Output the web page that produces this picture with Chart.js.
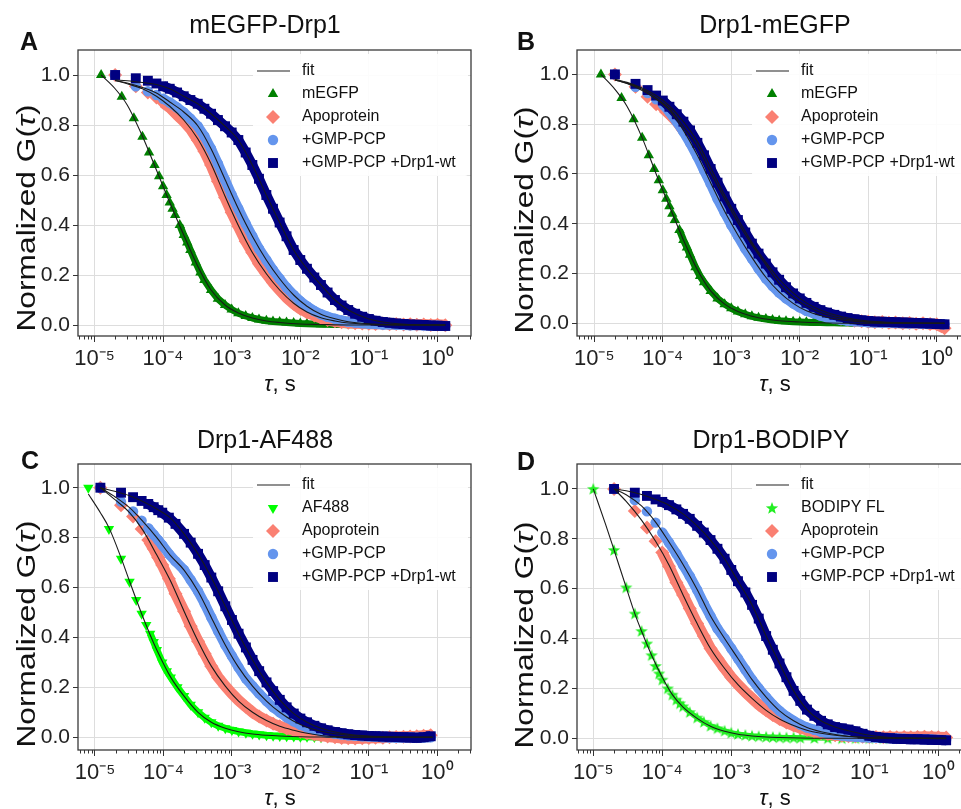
<!DOCTYPE html>
<html>
<head>
<meta charset="utf-8">
<script src="https://cdn.jsdelivr.net/npm/chart.js@4.4.1/dist/chart.umd.min.js"></script>
<style>
html, body { margin: 0; padding: 0; background: #fff; overflow: hidden; width: 961px; height: 809px; }
body { position: relative; font-family: 'Liberation Sans', Arial, sans-serif; color: #111; }
canvas { position: absolute; }
.title { position: absolute; font-size: 25px; line-height: 1; white-space: nowrap; transform: translateX(-50%); }
.letter { position: absolute; font-size: 25px; font-weight: bold; line-height: 1; }
.xlab { position: absolute; font-size: 22px; line-height: 1; white-space: nowrap; transform: translateX(-50%); }
.ylab { position: absolute; font-size: 25px; line-height: 1; white-space: nowrap;
        transform: translate(-50%, -50%) rotate(-90deg) scaleX(1.27); }
</style>
</head>
<body>
<canvas id="cA" width="480" height="400" style="left:0;top:0"></canvas>
<canvas id="cB" width="480" height="400" style="left:499px;top:0"></canvas>
<canvas id="cC" width="480" height="400" style="left:0;top:414px"></canvas>
<canvas id="cD" width="480" height="400" style="left:499px;top:414px"></canvas>

<div class="title" style="left:265px;top:12px">mEGFP-Drp1</div>
<div class="title" style="left:775px;top:12px">Drp1-mEGFP</div>
<div class="title" style="left:265px;top:427px">Drp1-AF488</div>
<div class="title" style="left:771px;top:427px">Drp1-BODIPY</div>
<div class="letter" style="left:20px;top:29px">A</div>
<div class="letter" style="left:517px;top:29px">B</div>
<div class="letter" style="left:21px;top:448px">C</div>
<div class="letter" style="left:517px;top:449px">D</div>
<div class="ylab" style="left:26px;top:218px">Normalized G(<i>τ</i>)</div>
<div class="ylab" style="left:524px;top:220px">Normalized G(<i>τ</i>)</div>
<div class="ylab" style="left:26px;top:634px">Normalized G(<i>τ</i>)</div>
<div class="ylab" style="left:524px;top:635px">Normalized G(<i>τ</i>)</div>
<div class="xlab" style="left:280px;top:373px"><i>τ</i>, s</div>
<div class="xlab" style="left:775px;top:373px"><i>τ</i>, s</div>
<div class="xlab" style="left:280px;top:787px"><i>τ</i>, s</div>
<div class="xlab" style="left:775px;top:787px"><i>τ</i>, s</div>

<script>
const FONT = "'Liberation Sans', Arial, sans-serif";
Chart.defaults.font.family = FONT;
Chart.defaults.color = '#222';

const X_TICKS = [1e-5, 1e-4, 1e-3, 1e-2, 1e-1, 1];
const Y_TICKS = [0, 0.2, 0.4, 0.6, 0.8, 1.0];
const SUP = {'-': '\u207b', '0': '\u2070', '1': '\u00b9', '2': '\u00b2', '3': '\u00b3', '4': '\u2074', '5': '\u2075'};

// lag times, s
const TAU = [2e-5, 4e-5, 6e-5, 8e-5, 1e-4, 1.25e-4, 1.6e-4, 2e-4, 2.5e-4, 3.2e-4,
  4e-4, 5e-4, 6.3e-4, 8e-4, 1e-3, 1.25e-3, 1.6e-3, 2e-3, 2.5e-3, 3.2e-3,
  4e-3, 5e-3, 6.3e-3, 8e-3, 1e-2, 1.25e-2, 1.6e-2, 2e-2, 2.5e-2, 3.2e-2,
  4e-2, 5e-2, 6.3e-2, 8e-2, 0.1, 0.125, 0.16, 0.2, 0.25, 0.32,
  0.4, 0.5, 0.63, 0.8, 1.0, 1.3];
const TAU_C = [1.2e-5, 2.4e-5, 3.6e-5, 4.8e-5, 6e-5, 7.2e-5, 8.4e-5, 9.6e-5, 1.2e-4, 1.5e-4,
  2e-4, 2.5e-4, 3.2e-4, 4e-4, 5e-4, 6.3e-4, 8e-4, 1e-3, 1.25e-3, 1.6e-3,
  2e-3, 2.5e-3, 3.2e-3, 4e-3, 5e-3, 6.3e-3, 8e-3, 1e-2, 1.25e-2, 1.6e-2,
  2e-2, 2.5e-2, 3.2e-2, 4e-2, 5e-2, 6.3e-2, 8e-2, 0.1, 0.125, 0.16,
  0.2, 0.25, 0.32, 0.4, 0.5, 0.63, 0.8];
const TAU_MEGFP = [1.25e-5, 2.5e-5, 3.75e-5, 5e-5, 6.25e-5, 7.5e-5, 8.75e-5, 1e-4, 1.125e-4, 1.25e-4,
  1.375e-4, 1.5e-4, 1.75e-4, 2e-4, 2.25e-4, 2.5e-4, 3e-4, 3.5e-4, 4e-4, 5e-4,
  6.3e-4, 8e-4, 1e-3, 1.25e-3, 1.6e-3, 2e-3, 2.5e-3, 3.2e-3, 4e-3, 5e-3,
  6.3e-3, 8e-3, 1e-2, 1.25e-2, 1.6e-2, 2e-2, 2.5e-2, 3.2e-2, 4e-2, 5e-2,
  6.3e-2];
const TAU_AF488 = [8e-6, 1.6e-5, 2.4e-5, 3.2e-5, 4e-5, 4.8e-5, 5.6e-5, 6.4e-5, 7.2e-5, 8e-5,
  9.6e-5, 1.12e-4, 1.28e-4, 1.6e-4, 2e-4, 2.5e-4, 3.2e-4, 4e-4, 5e-4, 6.3e-4,
  8e-4, 1e-3, 1.25e-3, 1.6e-3, 2e-3, 2.5e-3, 3.2e-3, 4e-3, 5e-3, 6.3e-3,
  8e-3, 1e-2, 1.25e-2, 1.6e-2, 2e-2];
const TAU_BODIPY = [1e-5, 2e-5, 3e-5, 4e-5, 5e-5, 6e-5, 7e-5, 8e-5, 9e-5, 1e-4,
  1.2e-4, 1.4e-4, 1.6e-4, 1.8e-4, 2e-4, 2.5e-4, 3.2e-4, 4e-4, 5e-4, 6.3e-4,
  8e-4, 1e-3, 1.25e-3, 1.6e-3, 2e-3, 2.5e-3, 3.2e-3, 4e-3, 5e-3, 6.3e-3,
  8e-3, 1e-2, 1.6e-2, 2.5e-2, 4e-2, 6.3e-2, 0.1, 0.16, 0.25, 0.4,
  0.63, 1.0];
// lag times of the fit curves
const TAU_FIT = [2e-5, 3e-5, 5e-5, 8e-5, 1.25e-4, 2e-4, 3.2e-4, 5e-4, 8e-4, 1.25e-3,
  2e-3, 3.2e-3, 5e-3, 8e-3, 1.25e-2, 2e-2, 3.2e-2, 5e-2, 0.1, 0.2, 0.5, 1.3];
const TAU_FIT_C = [1.2e-5, 2e-5, 3.2e-5, 5e-5, 8e-5, 1.25e-4, 2e-4, 3.2e-4, 5e-4, 8e-4, 1.25e-3,
  2e-3, 3.2e-3, 5e-3, 8e-3, 1.25e-2, 2e-2, 3.2e-2, 5e-2, 0.1, 0.2, 0.5, 0.85];
const TAU_FIT_MEGFP = [1.25e-5, 2e-5, 3e-5, 5e-5, 8e-5, 1.25e-4, 2e-4, 3.2e-4, 5e-4, 8e-4,
  1.25e-3, 2e-3, 3.2e-3, 5e-3, 1e-2, 2e-2, 5e-2, 0.1, 0.3, 1.3];
const TAU_FIT_AF488 = [8e-6, 1.2e-5, 1.6e-5, 2.4e-5, 3.2e-5, 4.8e-5, 6.4e-5, 8e-5, 1.28e-4, 2e-4,
  3.2e-4, 5e-4, 8e-4, 1.25e-3, 2e-3, 3.2e-3, 5e-3, 1e-2, 2e-2, 5e-2, 0.1, 0.3, 0.85];
const TAU_FIT_BODIPY = [1e-5, 1.5e-5, 2e-5, 3e-5, 4e-5, 5e-5, 7e-5, 1e-4, 1.4e-4, 2e-4,
  3.2e-4, 5e-4, 8e-4, 1.25e-3, 2e-3, 3.2e-3, 5e-3, 1e-2, 2e-2, 5e-2, 0.1, 0.3, 1.3];

// A: mEGFP-Drp1
const A_MEGFP = [1.0, 0.913, 0.827, 0.753, 0.69, 0.64, 0.595, 0.555, 0.52, 0.49,
  0.465, 0.44, 0.4, 0.36, 0.33, 0.3, 0.25, 0.21, 0.18, 0.14,
  0.105, 0.08, 0.062, 0.047, 0.036, 0.028, 0.022, 0.017, 0.014, 0.012,
  0.01, 0.008, 0.006, 0.005, 0.004, 0.003, 0.003, 0.002, 0.002, 0.001,
  0.001];
const A_APO = [1.0, 0.955, 0.93, 0.91, 0.89, 0.87, 0.84, 0.815, 0.785, 0.74,
  0.695, 0.64, 0.575, 0.51, 0.45, 0.395, 0.335, 0.29, 0.245, 0.205,
  0.17, 0.14, 0.11, 0.085, 0.065, 0.05, 0.038, 0.028, 0.02, 0.015,
  0.011, 0.009, 0.007, 0.006, 0.005, 0.004, 0.006, 0.003, 0.004, 0.002,
  0.003, 0.001, 0.002, 0.0, 0.001, -0.001];
const A_GMP = [1.0, 0.955, 0.935, 0.92, 0.905, 0.89, 0.87, 0.85, 0.825, 0.795,
  0.755, 0.705, 0.645, 0.58, 0.52, 0.465, 0.405, 0.355, 0.305, 0.26,
  0.22, 0.185, 0.15, 0.12, 0.095, 0.075, 0.056, 0.043, 0.033, 0.025,
  0.018, 0.013, 0.01, 0.007, 0.005, 0.004, 0.002, 0.003, 0.001, 0.0,
  -0.001, 0.0, -0.002, -0.003, -0.003, -0.004];
const A_WT = [1.0, 0.987, 0.977, 0.966, 0.955, 0.945, 0.93, 0.915, 0.9, 0.885,
  0.865, 0.845, 0.82, 0.795, 0.77, 0.74, 0.69, 0.64, 0.585, 0.52,
  0.465, 0.41, 0.355, 0.3, 0.26, 0.225, 0.19, 0.16, 0.13, 0.1,
  0.078, 0.06, 0.045, 0.033, 0.024, 0.017, 0.012, 0.009, 0.006, 0.004,
  0.002, 0.001, 0.0, -0.002, -0.003, -0.004];
const A_FIT_MEGFP = [1.0, 0.945, 0.88, 0.755, 0.62, 0.49, 0.36, 0.235, 0.14, 0.08,
  0.048, 0.028, 0.016, 0.01, 0.004, 0.002, 0.0, 0.0, 0.0, 0.0];
const A_FIT_APO = [0.978, 0.965, 0.945, 0.915, 0.875, 0.82, 0.745, 0.645, 0.515, 0.398,
  0.29, 0.205, 0.14, 0.087, 0.052, 0.029, 0.016, 0.008, 0.003, 0.001, 0.0, 0.0];
const A_FIT_GMP = [0.978, 0.968, 0.95, 0.928, 0.892, 0.852, 0.797, 0.705, 0.582, 0.465,
  0.355, 0.26, 0.185, 0.12, 0.075, 0.043, 0.025, 0.013, 0.005, 0.002, 0.0, 0.0];
const A_FIT_WT = [0.98, 0.977, 0.97, 0.962, 0.945, 0.915, 0.885, 0.845, 0.795, 0.74,
  0.64, 0.52, 0.41, 0.3, 0.225, 0.16, 0.1, 0.06, 0.024, 0.008, 0.001, 0.0];

// B: Drp1-mEGFP
const B_MEGFP = [1.0, 0.905, 0.82, 0.745, 0.675, 0.62, 0.575, 0.535, 0.5, 0.47,
  0.44, 0.415, 0.375, 0.335, 0.305, 0.275, 0.225, 0.19, 0.165, 0.13,
  0.1, 0.077, 0.06, 0.047, 0.036, 0.028, 0.022, 0.017, 0.013, 0.01,
  0.008, 0.006, 0.005, 0.004, 0.003, 0.003, 0.002, 0.002, 0.001, 0.001,
  0.0];
const B_APO = [1.0, 0.95, 0.91, 0.88, 0.865, 0.84, 0.81, 0.775, 0.74, 0.695,
  0.645, 0.595, 0.54, 0.49, 0.445, 0.4, 0.35, 0.305, 0.265, 0.225,
  0.19, 0.158, 0.128, 0.102, 0.082, 0.065, 0.05, 0.04, 0.031, 0.024,
  0.018, 0.014, 0.01, 0.008, 0.006, 0.004, 0.005, 0.002, 0.003, 0.0,
  0.001, -0.002, 0.0, -0.003, -0.004, -0.02];
const B_GMP = [1.0, 0.95, 0.925, 0.9, 0.88, 0.85, 0.81, 0.77, 0.725, 0.67,
  0.615, 0.56, 0.5, 0.445, 0.395, 0.35, 0.3, 0.26, 0.22, 0.18,
  0.15, 0.123, 0.1, 0.08, 0.064, 0.05, 0.04, 0.031, 0.024, 0.018,
  0.014, 0.01, 0.008, 0.006, 0.004, 0.003, 0.002, 0.003, 0.001, 0.0,
  -0.001, 0.0, -0.002, -0.002, -0.003, -0.004];
const B_WT = [1.0, 0.962, 0.937, 0.915, 0.895, 0.87, 0.84, 0.81, 0.775, 0.725,
  0.675, 0.62, 0.565, 0.51, 0.46, 0.415, 0.365, 0.32, 0.28, 0.24,
  0.205, 0.175, 0.145, 0.12, 0.1, 0.082, 0.066, 0.053, 0.043, 0.034,
  0.027, 0.021, 0.016, 0.012, 0.009, 0.007, 0.006, 0.005, 0.004, 0.003,
  0.002, 0.001, 0.0, -0.001, -0.003, -0.004];
const B_FIT_MEGFP = [1.0, 0.94, 0.872, 0.745, 0.6, 0.47, 0.335, 0.215, 0.13, 0.077,
  0.047, 0.028, 0.017, 0.01, 0.005, 0.002, 0.0, 0.0, 0.0, 0.0];
const B_FIT_APO = [0.978, 0.965, 0.94, 0.905, 0.862, 0.79, 0.71, 0.605, 0.5, 0.405,
  0.315, 0.235, 0.16, 0.105, 0.07, 0.043, 0.026, 0.015, 0.006, 0.002, 0.0, 0.0];
const B_FIT_GMP = [0.978, 0.963, 0.935, 0.9, 0.855, 0.775, 0.675, 0.565, 0.45, 0.355,
  0.265, 0.185, 0.126, 0.08, 0.05, 0.031, 0.018, 0.01, 0.004, 0.001, 0.0, 0.0];
const B_FIT_WT = [0.98, 0.968, 0.945, 0.915, 0.873, 0.81, 0.73, 0.625, 0.515, 0.42,
  0.325, 0.245, 0.178, 0.122, 0.082, 0.053, 0.034, 0.021, 0.009, 0.004, 0.001, 0.0];

// C: Drp1-AF488
const C_AF488 = [1.0, 0.835, 0.715, 0.623, 0.55, 0.495, 0.45, 0.415, 0.382, 0.35,
  0.3, 0.265, 0.24, 0.2, 0.165, 0.13, 0.1, 0.078, 0.06, 0.046,
  0.036, 0.029, 0.023, 0.018, 0.014, 0.011, 0.008, 0.006, 0.005, 0.004,
  0.003, 0.002, 0.002, 0.001, 0.0];
const C_APO = [1.0, 0.93, 0.885, 0.835, 0.79, 0.755, 0.72, 0.69, 0.635, 0.575,
  0.505, 0.445, 0.385, 0.335, 0.285, 0.24, 0.205, 0.175, 0.148, 0.122,
  0.1, 0.083, 0.067, 0.054, 0.044, 0.035, 0.028, 0.022, 0.016, 0.011,
  0.007, 0.003, 0.0, -0.003, -0.004, -0.005, -0.004, -0.003, -0.002, -0.002,
  0.0, 0.001, 0.002, 0.003, 0.004, 0.006, 0.008];
const C_GMP = [1.0, 0.944, 0.905, 0.868, 0.838, 0.812, 0.79, 0.77, 0.735, 0.705,
  0.67, 0.63, 0.585, 0.535, 0.48, 0.425, 0.37, 0.325, 0.28, 0.235,
  0.205, 0.175, 0.145, 0.12, 0.1, 0.08, 0.064, 0.05, 0.04, 0.031,
  0.024, 0.019, 0.014, 0.011, 0.008, 0.006, 0.004, 0.003, 0.002, 0.0,
  -0.001, -0.002, -0.001, 0.0, -0.002, -0.001, 0.0];
const C_WT = [1.0, 0.98, 0.962, 0.947, 0.935, 0.922, 0.91, 0.9, 0.88, 0.855,
  0.815, 0.78, 0.735, 0.69, 0.64, 0.585, 0.525, 0.47, 0.415, 0.36,
  0.31, 0.265, 0.22, 0.185, 0.15, 0.12, 0.095, 0.075, 0.06, 0.046,
  0.036, 0.028, 0.021, 0.016, 0.012, 0.009, 0.007, 0.005, 0.004, 0.003,
  0.002, 0.001, 0.0, -0.001, -0.002, 0.0, 0.004];
const C_FIT_AF488 = [0.975, 0.9, 0.84, 0.72, 0.625, 0.495, 0.41, 0.35, 0.24, 0.165,
  0.1, 0.06, 0.036, 0.022, 0.013, 0.008, 0.005, 0.002, 0.001, 0.0, 0.0, 0.0, 0.0];
const C_FIT_APO = [1.0, 0.95, 0.9, 0.83, 0.73, 0.63, 0.505, 0.385, 0.285, 0.205,
  0.145, 0.1, 0.067, 0.044, 0.028, 0.016, 0.007, 0.003, 0.001, 0.0, 0.0, 0.0, 0.0];
const C_FIT_GMP = [1.0, 0.962, 0.92, 0.865, 0.8, 0.73, 0.67, 0.585, 0.48, 0.37,
  0.28, 0.205, 0.145, 0.1, 0.064, 0.04, 0.024, 0.014, 0.008, 0.003, 0.001, 0.0, 0.0];
const C_FIT_WT = [1.0, 0.985, 0.968, 0.945, 0.915, 0.88, 0.815, 0.735, 0.64, 0.525,
  0.415, 0.31, 0.22, 0.15, 0.095, 0.06, 0.036, 0.021, 0.012, 0.005, 0.002, 0.0, 0.0];

// D: Drp1-BODIPY
const D_BODIPY = [1.0, 0.755, 0.605, 0.5, 0.43, 0.38, 0.333, 0.29, 0.26, 0.235,
  0.2, 0.175, 0.155, 0.14, 0.128, 0.105, 0.083, 0.066, 0.05, 0.04,
  0.03, 0.022, 0.017, 0.013, 0.01, 0.008, 0.006, 0.005, 0.004, 0.003,
  0.003, 0.002, 0.001, 0.0, 0.0, 0.0, 0.0, 0.0, 0.001, 0.002,
  0.008, 0.0];
const D_APO = [1.0, 0.912, 0.845, 0.79, 0.745, 0.69, 0.625, 0.575, 0.52, 0.46,
  0.41, 0.36, 0.32, 0.28, 0.245, 0.215, 0.185, 0.16, 0.135, 0.112,
  0.093, 0.077, 0.063, 0.051, 0.041, 0.033, 0.026, 0.02, 0.016, 0.012,
  0.01, 0.008, 0.007, 0.006, 0.005, 0.005, 0.004, 0.005, 0.004, 0.005,
  0.004, 0.005, 0.006, 0.005, 0.004, 0.003];
const D_GMP = [1.0, 0.955, 0.91, 0.865, 0.825, 0.785, 0.74, 0.695, 0.65, 0.595,
  0.54, 0.49, 0.44, 0.4, 0.36, 0.32, 0.275, 0.235, 0.2, 0.165,
  0.135, 0.11, 0.088, 0.07, 0.055, 0.043, 0.034, 0.026, 0.02, 0.015,
  0.011, 0.008, 0.006, 0.004, 0.003, 0.002, 0.001, 0.0, -0.001, -0.002,
  -0.003, -0.003, -0.004, -0.005, -0.006, -0.007];
const D_WT = [1.0, 0.985, 0.972, 0.958, 0.948, 0.935, 0.918, 0.9, 0.88, 0.852,
  0.825, 0.795, 0.76, 0.72, 0.675, 0.63, 0.585, 0.535, 0.48, 0.41,
  0.355, 0.3, 0.245, 0.19, 0.15, 0.115, 0.09, 0.07, 0.056, 0.045,
  0.04, 0.035, 0.028, 0.018, 0.01, 0.005, 0.002, 0.0, -0.002, -0.003,
  -0.004, -0.004, -0.005, -0.006, -0.007, -0.008];
const D_FIT_BODIPY = [1.0, 0.86, 0.755, 0.605, 0.5, 0.43, 0.333, 0.245, 0.175, 0.125,
  0.08, 0.048, 0.028, 0.016, 0.009, 0.005, 0.003, 0.001, 0.0, 0.0, 0.0, 0.0, 0.0];
const D_FIT_APO = [1.0, 0.95, 0.875, 0.79, 0.695, 0.575, 0.46, 0.36, 0.28, 0.215,
  0.16, 0.112, 0.077, 0.051, 0.032, 0.02, 0.012, 0.007, 0.003, 0.001, 0.0, 0.0];
const D_FIT_GMP = [1.0, 0.977, 0.932, 0.867, 0.787, 0.697, 0.597, 0.49, 0.4, 0.32,
  0.235, 0.165, 0.11, 0.07, 0.043, 0.026, 0.015, 0.008, 0.003, 0.001, 0.0, 0.0];
const D_FIT_WT = [1.0, 0.993, 0.978, 0.958, 0.935, 0.9, 0.852, 0.795, 0.72, 0.63,
  0.535, 0.41, 0.3, 0.19, 0.115, 0.07, 0.045, 0.03, 0.012, 0.003, 0.0, -0.002];

// filled 5-point star marker (matplotlib '*')
function starImage(color) {
  const c = document.createElement('canvas');
  c.width = 14; c.height = 14;
  const g = c.getContext('2d');
  g.fillStyle = color;
  g.beginPath();
  for (let i = 0; i < 10; i++) {
    const r = i % 2 ? 2.7 : 6.5;
    const a = -Math.PI / 2 + i * Math.PI / 5;
    g.lineTo(7 + r * Math.cos(a), 7.5 + r * Math.sin(a));
  }
  g.closePath();
  g.fill();
  return c;
}

const ST_MEGFP = {color: '#008000', pointStyle: 'triangle', radius: 6, rotation: 0, band: 7};
const ST_AF488 = {color: '#00ff00', pointStyle: 'triangle', radius: 6, rotation: 180, band: 7};
const ST_BODIPY = {color: '#22ee22', pointStyle: starImage('#22ee22'), radius: 6, rotation: 0, band: 5};
const ST_APO = {color: '#fa8072', pointStyle: 'rectRot', radius: 7, rotation: 0, band: 11};
const ST_GMP = {color: '#6495ed', pointStyle: 'circle', radius: 5.2, rotation: 0, band: 10};
const ST_WT = {color: '#000080', pointStyle: 'rect', radius: 7, rotation: 0, band: 10};

function markerSet(label, tau, vals, st, bandFrom, order) {
  return {
    label: label,
    order: order,
    data: tau.map((t, i) => ({x: t, y: vals[i]})),
    showLine: true,
    borderColor: st.color,
    borderWidth: st.band,
    borderJoinStyle: 'round',
    // dense part of the correlation curve looks like a solid band of markers
    segment: {borderColor: ctx => ctx.p0.parsed.x < bandFrom ? 'rgba(0,0,0,0)' : st.color},
    pointStyle: st.pointStyle,
    pointRadius: st.radius,
    pointRotation: st.rotation,
    pointBackgroundColor: st.color,
    pointBorderWidth: 0
  };
}

function fitSet(tau, vals) {
  return {
    label: 'fit',
    order: 0,
    data: tau.map((t, i) => ({x: t, y: vals[i]})),
    showLine: true,
    borderColor: '#1a1a1a',
    borderWidth: 1.1,
    pointRadius: 0,
    cubicInterpolationMode: 'monotone'
  };
}

function drawMarker(ctx, d, x, y) {
  if (Chart.helpers && Chart.helpers.drawPoint) {
    Chart.helpers.drawPoint(ctx, {pointStyle: d.pointStyle, radius: d.pointRadius,
      rotation: d.pointRotation, borderWidth: 0}, x, y);
  } else {
    ctx.beginPath(); ctx.arc(x, y, d.pointRadius, 0, Math.PI * 2); ctx.fill();
  }
}

// legend inside the axes, upper right: white box under the data, entries on top
const legendInside = {
  id: 'legendInside',
  beforeDatasetsDraw(chart) {
    const {ctx, chartArea: a} = chart;
    ctx.save();
    ctx.fillStyle = 'rgba(255,255,255,0.9)';
    ctx.beginPath();
    if (ctx.roundRect) ctx.roundRect(a.left + 175, a.top + 4, a.right - 3 - (a.left + 175), 122, 3);
    else ctx.rect(a.left + 175, a.top + 4, a.right - 3 - (a.left + 175), 122);
    ctx.fill();
    ctx.restore();
  },
  afterDatasetsDraw(chart) {
    const {ctx, chartArea: a} = chart;
    const x0 = a.left;
    ctx.save();
    ctx.font = '16px ' + FONT;
    ctx.textBaseline = 'middle';
    let y = a.top + 21;
    ctx.strokeStyle = '#222';
    ctx.lineWidth = 1.1;
    ctx.beginPath(); ctx.moveTo(x0 + 179, y); ctx.lineTo(x0 + 212, y); ctx.stroke();
    ctx.fillStyle = '#111';
    ctx.fillText('fit', x0 + 224, y);
    chart.data.datasets.filter(d => d.label !== 'fit').forEach(d => {
      y += 23;
      ctx.fillStyle = d.pointBackgroundColor;
      drawMarker(ctx, d, x0 + 195, y);
      ctx.fillStyle = '#111';
      ctx.fillText(d.label, x0 + 224, y);
    });
    ctx.restore();
  }
};

// box around the axes + minor log ticks
const frame = {
  id: 'frame',
  afterDraw(chart) {
    const {ctx, chartArea: a} = chart;
    const x = chart.scales.x;
    ctx.save();
    ctx.strokeStyle = '#333';
    ctx.lineWidth = 1;
    ctx.beginPath();
    for (let e = -6; e <= 0; e++) {
      for (let m = 2; m < 10; m++) {
        const v = m * Math.pow(10, e);
        if (v <= x.min || v >= x.max) continue;
        const px = Math.round(x.getPixelForValue(v)) + 0.5;
        ctx.moveTo(px, a.bottom);
        ctx.lineTo(px, a.bottom + 3.5);
      }
    }
    ctx.stroke();
    ctx.strokeStyle = '#3a3a3a';
    ctx.lineWidth = 1.3;
    ctx.strokeRect(a.left, a.top, a.right - a.left, a.bottom - a.top);
    ctx.restore();
  }
};

function supLabel(v) {
  return '10' + String(Math.round(Math.log10(v))).split('').map(c => SUP[c]).join('');
}

const PANELS = [
  {canvas: 'cA', xMin: 5.75e-6, xMax: 3.08, yMin: -0.044, yMax: 1.1,
   dye: ['mEGFP', TAU_MEGFP, A_MEGFP, ST_MEGFP, 1.75e-4, TAU_FIT_MEGFP, A_FIT_MEGFP],
   tau: TAU, band: 1e-4, apo: A_APO, gmp: A_GMP, wt: A_WT,
   fitTau: TAU_FIT, fits: [A_FIT_APO, A_FIT_GMP, A_FIT_WT]},
  {canvas: 'cB', xMin: 5.59e-6, xMax: 3.06, yMin: -0.051, yMax: 1.098,
   dye: ['mEGFP', TAU_MEGFP, B_MEGFP, ST_MEGFP, 1.75e-4, TAU_FIT_MEGFP, B_FIT_MEGFP],
   tau: TAU, band: 1e-4, apo: B_APO, gmp: B_GMP, wt: B_WT,
   fitTau: TAU_FIT, fits: [B_FIT_APO, B_FIT_GMP, B_FIT_WT]},
  {canvas: 'cC', xMin: 5.65e-6, xMax: 3.1, yMin: -0.051, yMax: 1.095,
   dye: ['AF488', TAU_AF488, C_AF488, ST_AF488, 6.4e-5, TAU_FIT_AF488, C_FIT_AF488],
   tau: TAU_C, band: 6e-5, apo: C_APO, gmp: C_GMP, wt: C_WT,
   fitTau: TAU_FIT_C, fits: [C_FIT_APO, C_FIT_GMP, C_FIT_WT]},
  {canvas: 'cD', xMin: 5.81e-6, xMax: 2.88, yMin: -0.047, yMax: 1.1,
   dye: ['BODIPY FL', TAU_BODIPY, D_BODIPY, ST_BODIPY, 1.8e-4, TAU_FIT_BODIPY, D_FIT_BODIPY],
   tau: TAU, band: 1e-4, apo: D_APO, gmp: D_GMP, wt: D_WT,
   fitTau: TAU_FIT, fits: [D_FIT_APO, D_FIT_GMP, D_FIT_WT]}
];

function buildPanel(p) {
  const [dyeLabel, dyeTau, dyeG, dyeStyle, dyeBand, dyeFitTau, dyeFit] = p.dye;
  const datasets = [
    markerSet(dyeLabel, dyeTau, dyeG, dyeStyle, dyeBand, 4),
    markerSet('Apoprotein', p.tau, p.apo, ST_APO, p.band, 3),
    markerSet('+GMP-PCP', p.tau, p.gmp, ST_GMP, p.band, 2),
    markerSet('+GMP-PCP +Drp1-wt', p.tau, p.wt, ST_WT, p.band, 1),
    fitSet(dyeFitTau, dyeFit),
    fitSet(p.fitTau, p.fits[0]),
    fitSet(p.fitTau, p.fits[1]),
    fitSet(p.fitTau, p.fits[2])
  ];
  new Chart(document.getElementById(p.canvas), {
    type: 'scatter',
    data: {datasets: datasets},
    options: {
      responsive: false,
      animation: false,
      devicePixelRatio: 1,
      events: [],
      layout: {padding: {left: 0, right: 9, top: 50, bottom: 0}},
      plugins: {legend: {display: false}, tooltip: {enabled: false}},
      scales: {
        x: {
          type: 'logarithmic', min: p.xMin, max: p.xMax,
          afterBuildTicks: ax => { ax.ticks = X_TICKS.map(v => ({value: v})); },
          afterFit: ax => { ax.height = 64; },
          ticks: {autoSkip: false, maxRotation: 0, padding: 4, color: '#222',
                  font: {size: 22}, callback: v => supLabel(v)},
          grid: {color: '#dddddd', lineWidth: 1, tickLength: 6, tickColor: '#333'},
          border: {display: false}
        },
        y: {
          min: p.yMin, max: p.yMax,
          afterBuildTicks: ax => { ax.ticks = Y_TICKS.map(v => ({value: v})); },
          afterFit: ax => { ax.width = 78; },
          ticks: {padding: 3, color: '#222', font: {size: 21}, callback: v => v.toFixed(1)},
          grid: {color: '#dddddd', lineWidth: 1, tickLength: 5, tickColor: '#333'},
          border: {display: false}
        }
      }
    },
    plugins: [legendInside, frame]
  });
}

PANELS.forEach(buildPanel);
</script>
</body>
</html>
